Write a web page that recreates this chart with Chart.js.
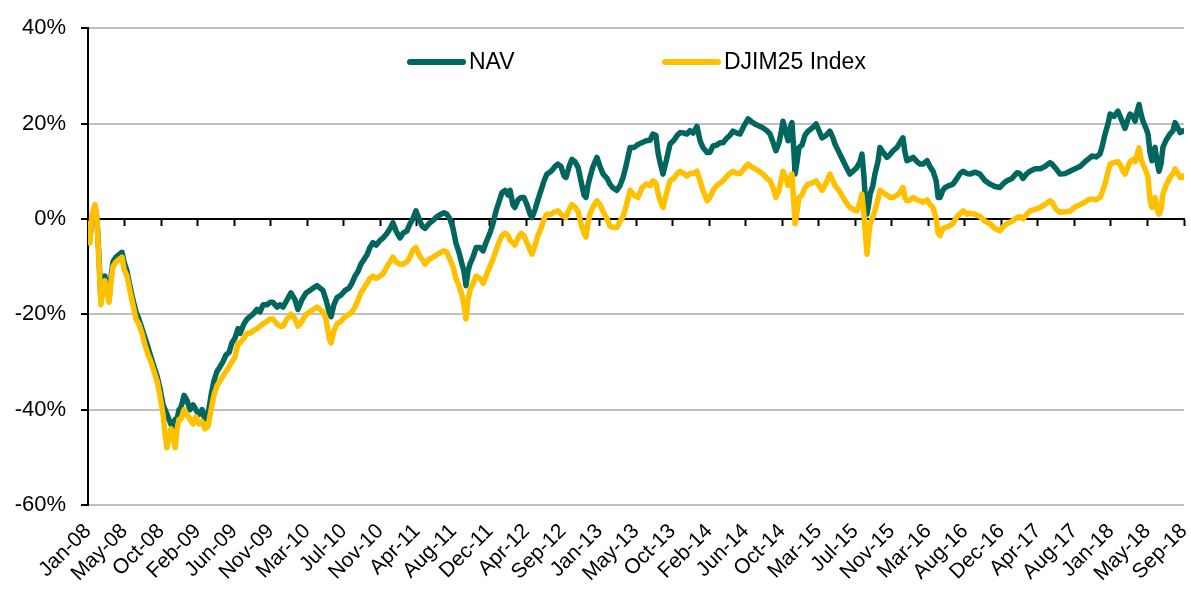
<!DOCTYPE html>
<html>
<head>
<meta charset="utf-8">
<script src="https://cdn.jsdelivr.net/npm/chart.js@4"></script>
<style>
html,body{margin:0;padding:0;background:#fff;}
#wrap{width:1191px;height:589px;}
</style>
</head>
<body>
<div id="wrap"><canvas id="c" width="1191" height="589"></canvas></div>
<script>
// x values: days elapsed since the first observation (late Jan 2008); ticks every 130 days
const tickStepDays = 130;
const tickLabels = ['Jan-08','May-08','Oct-08','Feb-09','Jun-09','Nov-09','Mar-10','Jul-10','Nov-10','Apr-11','Aug-11','Dec-11','Apr-12','Sep-12','Jan-13','May-13','Oct-13','Feb-14','Jun-14','Oct-14','Mar-15','Jul-15','Nov-15','Mar-16','Aug-16','Dec-16','Apr-17','Aug-17','Jan-18','May-18','Sep-18'];

const seriesNames = ['NAV', 'DJIM25 Index'];

const dayOffsets = [
  0,7,14,25,32,39,46,53,60,68,
  75,82,89,100,110,121,128,139,149,160,
  171,181,192,203,214,224,235,246,256,267,
  274,281,288,295,302,310,317,324,331,342,
  352,363,374,384,395,406,416,427,438,448,
  459,470,480,491,502,512,523,534,
  541,555,566,576,587,601,612,623,637,648,
  658,673,683,694,708,722,737,747,761,776,
  790,801,815,826,836,847,858,865,875,886,
  900,915,929,939,950,961,971,982,993,1003,
  1014,1025,
  1039,1050,1064,1075,1085,1096,1110,1121,1135,1146,
  1156,1167,1178,1189,1199,1213,1228,1242,1256,1267,
  1277,1288,1299,1309,1320,1331,1338,1345,1352,1359,
  1370,1381,1395,1406,1416,1430,1441,1452,1462,1473,
  1484,1495,1502,1512,1519,1530,1541,1551,1562,1573,
  1580,1591,1601,1612,1623,1633,1648,1662,1672,1683,
  1694,1701,1712,1722,1733,1744,1754,1765,1772,1779,
  1786,1797,1811,1822,1833,1847,1857,1868,1882,1893,
  1904,1914,1929,1943,1957,1971,1986,2000,2010,2021,
  2028,2035,2046,2057,2071,2085,2096,2107,2121,2131,
  2142,2153,2167,2178,2188,2203,2213,2224,2238,2249,
  2260,2274,2284,2295,2309,2320,2334,2349,2359,2373,
  2388,2402,2416,2427,2438,2448,2459,2466,2473,2484,
  2491,2498,2505,2512,2516,2523,2530,2541,2551,2562,
  2576,2591,2601,2612,2626,2640,2651,2658,2672,2687,
  2697,2711,2722,2736,2747,2754,2761,2765,2772,2779,
  2783,2793,2800,2811,2818,2829,2843,2854,2865,2879,
  2889,2900,2907,2914,2925,2936,2950,2961,2971,2986,
  2996,3007,3018,3025,3032,3042,3050,3064,3078,3092,
  3103,3114,3128,3138,3156,3174,3192,3210,3227,3245,
  3259,3270,3288,3306,3316,3327,3341,3352,3370,3388,
  3405,3423,3430,3445,3459,3477,3494,3512,3530,3548,
  3558,3573,3587,3601,3608,3619,3630,3637,3651,3665,
  3676,3683,3690,3701,3708,3719,3726,3733,3740,3747,
  3754,3765,3772,3779,3786,3793,3797,3804,3811,3818,
  3825,3836,3850,3861,3868,3879,3886,3896,3900
];

const navReturn = [
  -1,-4,0,2.5,0,-8,-17,-13,-12,-15,
  -17,-12,-9,-8,-7.5,-7,-9,-11,-14,-17,
  -19.5,-21,-23,-25,-27,-29,-31,-33,-35.5,-39,
  -40,-41,-42,-43,-44,-42,-42,-40,-39.5,-37,
  -38,-40,-39,-40,-41,-40,-42,-41,-37,-34,
  -32,-31,-30,-28.5,-28,-26,-25,-23,
  -24,-22,-21,-20.5,-20,-19,-19.5,-18,-18,-17.5,
  -17.5,-18.5,-18,-18.5,-17,-15.5,-17,-19,-17,-15.5,
  -15,-14.5,-14,-14.5,-15,-17,-19.5,-20.5,-18,-16.5,
  -16,-15,-14.5,-13.5,-12,-11,-9.5,-8.5,-7.5,-6,
  -5,-5.5,
  -4.5,-4,-3,-2,-0.8,-2.5,-4,-3,-2.5,-1,
  0,1.7,0,-1.5,-2,-1,-0.3,0.5,1,1.3,
  1,0,-2,-5,-7,-9.5,-11,-14,-11,-9.5,
  -8,-6,-6,-6.7,-5,-3,-1,1.7,3.5,5.5,
  6,5,6,3,2.4,4,4.5,4.5,3,1,
  0.3,2,4,6,8,9.4,10,11,11.5,11,
  9,8.7,11,12.5,12,10.8,8,5,4.5,7,
  8.7,11,12.9,11,9.4,8.5,7.3,6.5,6,7,
  8.7,11,15,15,15.6,16,16.4,16.5,17.8,17.5,
  14,12,9.4,12,15.7,16.5,17.5,18.1,18,17.8,
  18.5,18,19.4,16.4,15,13.9,14,15.3,15.5,16,
  16,17,17.5,18.4,18,17.8,19.5,21,20.5,19.9,
  19.5,19.1,18.5,17.8,16,14.3,16,18,20.5,18,
  16.4,19,20.2,14,9.4,12,15,15.5,17.5,18.4,
  19,19.9,18.5,17,17.5,18.4,17,15.7,14,12.2,
  11,9.4,10,10.8,12,13.6,9,5.2,1,3.5,
  5.2,7,9.4,12,15,14,12.9,13.5,14.3,15,
  16,17,14,12.2,12.5,12.9,12,11.5,11.5,12.2,
  11,10,8,4.5,4.5,6,6.6,7,7.3,8.5,
  9.5,10,9.5,9.4,9.8,9.4,8,7.3,6.8,6.6,
  7.5,8,8.5,9.7,9.5,8.5,9.5,10,10.5,10.5,
  11,11.8,11.5,10.5,9.4,9.5,10,10.5,11,12,
  12.5,13.2,13,13.6,15,17.8,20,22,21.5,22.6,
  21,20,19,21,22,21.5,20.5,22.5,24,22,
  20.5,19,17.8,14,12.2,14,15,12,10,11.5,
  15,16.5,17.8,18.5,20.2,19,18.1,18.5,18.4
];

const djimReturn = [
  -1,-5,1,3,0,-9,-18,-14,-13,-16,
  -17.5,-13,-10,-9,-8.5,-8,-10.5,-12,-15,-18,
  -21,-22,-24,-26.5,-28.5,-30,-32,-34,-37,-41,
  -45,-48,-46,-44,-45,-48,-44,-42,-42,-40,
  -41,-42,-43,-41.5,-43,-42.5,-44,-43.5,-40,-37,
  -35,-34,-33,-32,-31,-30,-29,-26,
  -26,-25,-24,-24,-23.5,-23,-22.5,-22,-21.5,-21,
  -21,-22,-22.5,-22.5,-21,-20,-21,-22.5,-21.5,-20,
  -19.5,-19,-18.5,-19,-19.5,-21,-25,-26,-23.5,-22,
  -21.5,-20.5,-20,-19.5,-18.5,-17,-15.5,-14.5,-13.5,-12.5,
  -12,-12.5,
  -12,-11.5,-10,-9,-8,-9,-9.5,-9.5,-9,-8,
  -6.5,-6,-7.5,-8.5,-9.5,-8.5,-8,-7.5,-7,-6.7,
  -7,-8.5,-10,-12.5,-14,-16,-18,-21,-17,-15,
  -13.5,-12,-12.5,-13.5,-12,-10,-8.5,-6.6,-5,-3.5,
  -3,-3.5,-4.5,-5,-5.5,-4,-3,-3.5,-5,-6.5,
  -7.4,-5.5,-3.5,-2,0,1,1,1.5,1.7,1,
  0.5,0.3,2,3,2.5,1.5,-1,-3,-3.8,-1,
  1,2.5,3.8,3,1.5,0,-1.5,-1.8,-1.8,-0.5,
  0.5,2.5,6,5,4.5,6.5,7.3,7,8,7.5,
  5.5,4,2.4,5,8,8.5,9.5,10,9.5,9,
  9.5,9.5,10,8,6,3.8,4.5,6,7,7.5,
  8,9,9.5,10,9.5,9.5,10.5,11.5,11,10.5,
  10,9.4,8.5,8,6.5,4.5,6,8,10,8.5,
  7,8.5,9.4,3,-1,1.5,4.5,5,6.5,7.3,
  7.5,8,7,6,7.5,9.4,8,7,6,4.5,
  3.5,2.4,2,1.7,3.5,5.2,1,-2,-7.4,-3,
  -1,0.5,1.7,4,6,5.5,5,4.5,4.5,5,
  5.5,6.6,4.5,3.8,4,4.5,4,3.8,3.5,4,
  3,2.4,0,-3,-3.5,-2,-1.8,-1.5,-1,0.5,
  1,1.7,1,1.2,1,0.5,-0.5,-1,-2,-2.5,
  -1.5,-1,-0.5,0.3,0.5,0,1,1.7,2,2.4,
  3,3.8,3.5,2,1.4,1.5,1.6,2.5,3,3.5,
  4,4.2,4,4.5,5.5,7.3,10,11.5,11.8,12,
  11,10,9.4,11,12,12.5,12,13.5,14.9,12.5,
  11.5,10,8.7,4,2.4,3.5,4.5,2,1,2,
  5.2,7,8.7,9.5,10.5,9.5,8.7,9,8.7
];

const yMin = -60, yMax = 40, yStep = 20;

if (navReturn.length !== dayOffsets.length || djimReturn.length !== dayOffsets.length) {
  console.error('length mismatch', dayOffsets.length, navReturn.length, djimReturn.length);
}

const toPoints = vals => dayOffsets.map((d, i) => ({ x: d, y: vals[i] }));
const xMax = tickStepDays * (tickLabels.length - 1);

const FONT = "'Liberation Sans', Arial, Helvetica, sans-serif";
Chart.defaults.font.family = FONT;
Chart.defaults.color = '#000';

const insideLegend = {
  id: 'insideLegend',
  afterDatasetsDraw(chart, args, opts) {
    const ctx = chart.ctx;
    ctx.save();
    chart.data.datasets.forEach((ds, i) => {
      const x0 = opts.startX[i];
      ctx.strokeStyle = ds.borderColor;
      ctx.lineWidth = opts.lineWidth;
      ctx.lineCap = 'round';
      ctx.beginPath();
      ctx.moveTo(x0, opts.y);
      ctx.lineTo(x0 + opts.lineLength, opts.y);
      ctx.stroke();
      ctx.fillStyle = '#000';
      ctx.font = opts.font;
      ctx.textBaseline = 'middle';
      ctx.textAlign = 'left';
      ctx.fillText(ds.label, x0 + opts.lineLength + opts.gap, opts.y + 1);
    });
    ctx.restore();
  }
};

new Chart(document.getElementById('c'), {
  type: 'line',
  data: {
    datasets: [
      { label: seriesNames[0], data: toPoints(navReturn), borderColor: '#00665E', borderWidth: 5.5,
        pointRadius: 0, tension: 0, borderJoinStyle: 'round', borderCapStyle: 'round', order: 1 },
      { label: seriesNames[1], data: toPoints(djimReturn), borderColor: '#FFC000', borderWidth: 5.5,
        pointRadius: 0, tension: 0, borderJoinStyle: 'round', borderCapStyle: 'round', order: 0 }
    ]
  },
  options: {
    responsive: false,
    animation: false,
    devicePixelRatio: 1,
    layout: { padding: { top: 27, right: 7, left: 0, bottom: 0 } },
    plugins: {
      legend: { display: false },
      tooltip: { enabled: false },
      insideLegend: { startX: [410, 665], y: 62, lineLength: 53, gap: 6, lineWidth: 6, font: '23px ' + FONT }
    },
    scales: {
      x: {
        type: 'linear', position: 'bottom', min: 0, max: xMax,
        grid: { display: false }, border: { display: false },
        ticks: {
          stepSize: tickStepDays, autoSkip: false, maxRotation: 45, minRotation: 45,
          padding: 6, color: '#000', font: { size: 21 },
          callback: v => { const i = Math.round(v / tickStepDays); return tickLabels[i] !== undefined ? tickLabels[i] : ''; }
        },
        afterFit: s => { s.height = 84; s.paddingLeft = 0; s.paddingRight = 0; }
      },
      x2: {
        type: 'linear', position: { y: 0 }, min: 0, max: xMax,
        grid: { drawOnChartArea: false, drawTicks: true, tickLength: 6, tickColor: '#000', tickWidth: 2 },
        border: { color: '#000', width: 2 },
        ticks: { stepSize: tickStepDays, display: false, autoSkip: false }
      },
      y: {
        min: yMin, max: yMax,
        ticks: { stepSize: yStep, padding: 15, color: '#000', font: { size: 22 }, callback: v => v + '%' },
        grid: {
          color: c => (c.tick && c.tick.value === 0) ? 'rgba(0,0,0,0)' : '#bfbfbf',
          lineWidth: 2, tickLength: 7, tickColor: '#000', tickWidth: 2
        },
        border: { color: '#000', width: 2 },
        afterFit: s => { s.width = 88; }
      }
    }
  },
  plugins: [insideLegend]
});
</script>
</body>
</html>
